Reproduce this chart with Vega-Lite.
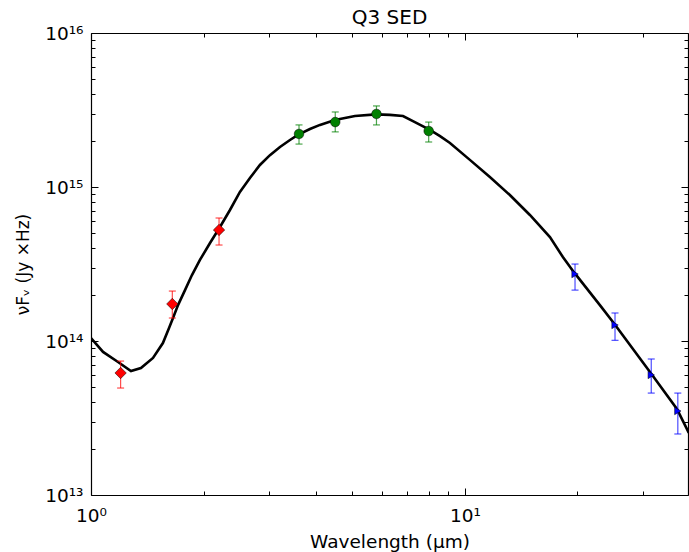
{
  "$schema": "https://vega.github.io/schema/vega-lite/v6.json",
  "width": 597,
  "height": 462,
  "autosize": "none",
  "padding": {"left": 91, "top": 33, "right": 1, "bottom": 57},
  "background": "white",
  "title": {"text": "Q3 SED", "fontSize": 20, "font": "DejaVu Sans", "fontWeight": "normal", "color": "black", "offset": -4},
  "config": {"view": {"stroke": null}, "font": "DejaVu Sans", "axis": {"grid": false}},
  "datasets": {
    "model": [
      {"lam": 1.0, "f": 1.045e14},
      {"lam": 1.077, "f": 8.49e13},
      {"lam": 1.181, "f": 7.31e13},
      {"lam": 1.279, "f": 6.38e13},
      {"lam": 1.36, "f": 6.68e13},
      {"lam": 1.465, "f": 7.76e13},
      {"lam": 1.557, "f": 9.7e13},
      {"lam": 1.617, "f": 1.215e14},
      {"lam": 1.657, "f": 1.41e14},
      {"lam": 1.709, "f": 1.71e14},
      {"lam": 1.784, "f": 2.14e14},
      {"lam": 1.862, "f": 2.68e14},
      {"lam": 1.956, "f": 3.36e14},
      {"lam": 2.081, "f": 4.33e14},
      {"lam": 2.213, "f": 5.5e14},
      {"lam": 2.353, "f": 7.09e14},
      {"lam": 2.502, "f": 9.29e14},
      {"lam": 2.661, "f": 1.145e15},
      {"lam": 2.83, "f": 1.39e15},
      {"lam": 3.01, "f": 1.61e15},
      {"lam": 3.202, "f": 1.82e15},
      {"lam": 3.405, "f": 2.02e15},
      {"lam": 3.576, "f": 2.18e15},
      {"lam": 3.851, "f": 2.38e15},
      {"lam": 4.096, "f": 2.53e15},
      {"lam": 4.49, "f": 2.72e15},
      {"lam": 5.08, "f": 2.89e15},
      {"lam": 5.78, "f": 2.96e15},
      {"lam": 6.3, "f": 2.94e15},
      {"lam": 6.83, "f": 2.89e15},
      {"lam": 7.26, "f": 2.68e15},
      {"lam": 8.06, "f": 2.35e15},
      {"lam": 8.58, "f": 2.14e15},
      {"lam": 9.12, "f": 1.93e15},
      {"lam": 10.31, "f": 1.5e15},
      {"lam": 11.66, "f": 1.16e15},
      {"lam": 13.19, "f": 8.87e14},
      {"lam": 14.92, "f": 6.58e14},
      {"lam": 16.88, "f": 4.73e14},
      {"lam": 18.28, "f": 3.51e14},
      {"lam": 19.54, "f": 2.81e14},
      {"lam": 22.96, "f": 1.71e14},
      {"lam": 25.0, "f": 1.31e14},
      {"lam": 31.4, "f": 6.2e13},
      {"lam": 36.9, "f": 3.62e13},
      {"lam": 39.7, "f": 2.53e13}
    ],
    "obs": [
      {"band": "JHK", "lam": 1.2, "f": 6.2e13, "lo": 4.95e13, "hi": 7.41e13},
      {"band": "JHK", "lam": 1.65, "f": 1.74e14, "lo": 1.41e14, "hi": 2.11e14},
      {"band": "JHK", "lam": 2.2, "f": 5.26e14, "lo": 4.2e14, "hi": 6.29e14},
      {"band": "IRAC", "lam": 3.6, "f": 2.21e15, "lo": 1.9e15, "hi": 2.53e15},
      {"band": "IRAC", "lam": 4.5, "f": 2.64e15, "lo": 2.28e15, "hi": 3.07e15},
      {"band": "IRAC", "lam": 5.8, "f": 2.98e15, "lo": 2.53e15, "hi": 3.36e15},
      {"band": "IRAC", "lam": 8.0, "f": 2.31e15, "lo": 1.96e15, "hi": 2.64e15},
      {"band": "FORCAST", "lam": 19.7, "f": 2.72e14, "lo": 2.14e14, "hi": 3.16e14},
      {"band": "FORCAST", "lam": 25.2, "f": 1.27e14, "lo": 1.01e14, "hi": 1.52e14},
      {"band": "FORCAST", "lam": 31.5, "f": 6.02e13, "lo": 4.59e13, "hi": 7.64e13},
      {"band": "FORCAST", "lam": 37.1, "f": 3.51e13, "lo": 2.49e13, "hi": 4.59e13}
    ]
  },
  "layer": [
    {
      "data": {"name": "model"},
      "mark": {"type": "line", "color": "black", "strokeWidth": 2.6, "clip": true},
      "encoding": {
        "x": {"field": "lam", "type": "quantitative",
          "scale": {"type": "log", "domain": [1, 39.5], "nice": false},
          "axis": {
            "orient": "bottom",
            "values": [1, 2, 3, 4, 5, 6, 7, 8, 9, 10, 20, 30],
            "labelExpr": "datum.value == 1 ? '10⁰' : datum.value == 10 ? '10¹' : ''",
            "tickSize": {"condition": {"test": "datum.value == 1 || datum.value == 10", "value": -7}, "value": -4},
            "tickColor": "black", "tickWidth": 1,
            "domainColor": "black", "domainWidth": 1.2,
            "labelFontSize": 18.5, "labelColor": "black", "labelFont": "DejaVu Sans",
            "labelPadding": 18, "labelFlush": false, "labelOverlap": false, "labelBound": false,
            "title": "Wavelength (μm)", "titleFontSize": 18.5, "titleFontWeight": "normal", "titleColor": "black", "titleFont": "DejaVu Sans",
            "titleY": 46, "titleBaseline": "middle"
          }
        },
        "y": {"field": "f", "type": "quantitative",
          "scale": {"type": "log", "domain": [1e13, 1e16], "nice": false},
          "axis": {
            "orient": "left",
            "values": [1e13, 2e13, 3e13, 4e13, 5e13, 6e13, 7e13, 8e13, 9e13, 1e14, 2e14, 3e14, 4e14, 5e14, 6e14, 7e14, 8e14, 9e14, 1e15, 2e15, 3e15, 4e15, 5e15, 6e15, 7e15, 8e15, 9e15, 1e16],
            "labelExpr": "datum.value == 1e13 ? '10¹³' : datum.value == 1e14 ? '10¹⁴' : datum.value == 1e15 ? '10¹⁵' : datum.value == 1e16 ? '10¹⁶' : ''",
            "tickSize": {"condition": {"test": "datum.value == 1e13 || datum.value == 1e14 || datum.value == 1e15 || datum.value == 1e16", "value": -7}, "value": -4},
            "tickColor": "black", "tickWidth": 1,
            "domainColor": "black", "domainWidth": 1.2,
            "labelFontSize": 18.5, "labelColor": "black", "labelFont": "DejaVu Sans",
            "labelPadding": 15, "labelFlush": false, "labelOverlap": false, "labelBound": false,
            "title": "νFᵥ (Jy ×Hz)", "titleFontSize": 17, "titleFontWeight": "normal", "titleColor": "black", "titleFont": "DejaVu Sans",
            "titleX": -68, "titleY": 231, "titleAngle": -90, "titleAlign": "center", "titleBaseline": "middle"
          }
        }
      }
    },
    {
      "data": {"name": "obs"},
      "mark": {"type": "rule", "strokeWidth": 1.2, "opacity": 0.7},
      "encoding": {
        "x": {"field": "lam", "type": "quantitative",
          "axis": {
            "orient": "top",
            "values": [1, 2, 3, 4, 5, 6, 7, 8, 9, 10, 20, 30],
            "labels": false, "title": null,
            "tickSize": {"condition": {"test": "datum.value == 1 || datum.value == 10", "value": -7}, "value": -4},
            "tickColor": "black", "tickWidth": 1,
            "domainColor": "black", "domainWidth": 1.2
          }
        },
        "y": {"field": "lo", "type": "quantitative",
          "axis": {
            "orient": "right",
            "values": [1e13, 2e13, 3e13, 4e13, 5e13, 6e13, 7e13, 8e13, 9e13, 1e14, 2e14, 3e14, 4e14, 5e14, 6e14, 7e14, 8e14, 9e14, 1e15, 2e15, 3e15, 4e15, 5e15, 6e15, 7e15, 8e15, 9e15, 1e16],
            "labels": false, "title": null,
            "tickSize": {"condition": {"test": "datum.value == 1e13 || datum.value == 1e14 || datum.value == 1e15 || datum.value == 1e16", "value": -7}, "value": -4},
            "tickColor": "black", "tickWidth": 1,
            "domainColor": "black", "domainWidth": 1.2
          }
        },
        "y2": {"field": "hi"},
        "color": {"field": "band", "type": "nominal",
          "scale": {"domain": ["JHK", "IRAC", "FORCAST"], "range": ["#ff0000", "#008000", "#0000ff"]},
          "legend": null}
      }
    },
    {
      "data": {"name": "obs"},
      "mark": {"type": "tick", "orient": "horizontal", "size": 7, "thickness": 1.2, "opacity": 0.7},
      "encoding": {
        "x": {"field": "lam", "type": "quantitative", "axis": null},
        "y": {"field": "lo", "type": "quantitative", "axis": null},
        "color": {"field": "band", "type": "nominal", "legend": null}
      }
    },
    {
      "data": {"name": "obs"},
      "mark": {"type": "tick", "orient": "horizontal", "size": 7, "thickness": 1.2, "opacity": 0.7},
      "encoding": {
        "x": {"field": "lam", "type": "quantitative", "axis": null},
        "y": {"field": "hi", "type": "quantitative", "axis": null},
        "color": {"field": "band", "type": "nominal", "legend": null}
      }
    },
    {
      "data": {"name": "obs"},
      "mark": {"type": "point", "filled": true, "opacity": 1, "stroke": "black", "strokeWidth": 0.5},
      "encoding": {
        "x": {"field": "lam", "type": "quantitative", "axis": null},
        "y": {"field": "f", "type": "quantitative", "axis": null},
        "color": {"field": "band", "type": "nominal", "legend": null},
        "shape": {"field": "band", "type": "nominal",
          "scale": {"domain": ["JHK", "IRAC", "FORCAST"], "range": ["diamond", "circle", "triangle-right"]},
          "legend": null},
        "size": {"field": "band", "type": "nominal",
          "scale": {"domain": ["JHK", "IRAC", "FORCAST"], "range": [130, 55, 50]},
          "legend": null}
      }
    }
  ],
  "resolve": {"axis": {"x": "independent", "y": "independent"}}
}
